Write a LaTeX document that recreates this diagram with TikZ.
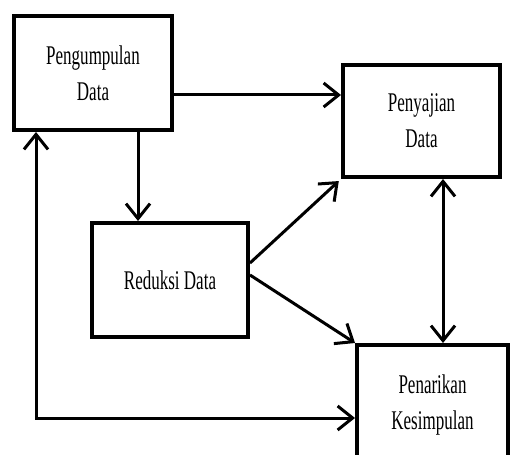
\documentclass[tikz,border=0pt]{standalone}
\usepackage{fontspec}
\usepackage{tikz}
\usetikzlibrary{arrows.meta}
\newfontfamily\diagfont[FakeStretch=0.63]{Liberation Serif}

\begin{document}
\begin{tikzpicture}[x=1pt, y=-1pt,
  barb/.tip={Straight Barb[length=15pt,width=24pt,line width=3pt]},
  box/.style={draw, line width=4pt, align=center, font=\diagfont\fontsize{27}{36}\selectfont},
  arr/.style={line width=3pt, -barb},
  dblarr/.style={line width=3pt, barb-barb}]
\useasboundingbox (0,0) rectangle (510,454);
\node [box, minimum width=158pt, minimum height=114pt] (pengumpulan) at (93,73) {Pengumpulan\\Data};
\node [box, minimum width=157pt, minimum height=112pt] (penyajian) at (421.5,121) {Penyajian\\Data};
\node [box, minimum width=156pt, minimum height=114pt] (reduksi) at (170,280) {Reduksi Data};
\node [box, minimum width=151pt, minimum height=120pt] (penarikan) at (432.5,405) {Penarikan\\Kesimpulan};
\draw [arr] ([yshift=-22pt]pengumpulan.east) -- ([yshift=-22pt]pengumpulan.east -| penyajian.west);
\draw [arr] ([xshift=45pt]pengumpulan.south) -- ([xshift=45pt]pengumpulan.south |- reduksi.north);
\draw [arr, shorten >=3pt] ([yshift=17pt]reduksi.east) -- (penyajian.south west);
\draw [arr] ([yshift=5pt]reduksi.east) -- (penarikan.north west);
\draw [dblarr] ([xshift=21.5pt]penyajian.south) -- ([xshift=21.5pt]penyajian.south |- penarikan.north);
\draw [dblarr] ([xshift=-57pt]pengumpulan.south) |- ([yshift=-13pt]penarikan.west);
\end{tikzpicture}
\end{document}
